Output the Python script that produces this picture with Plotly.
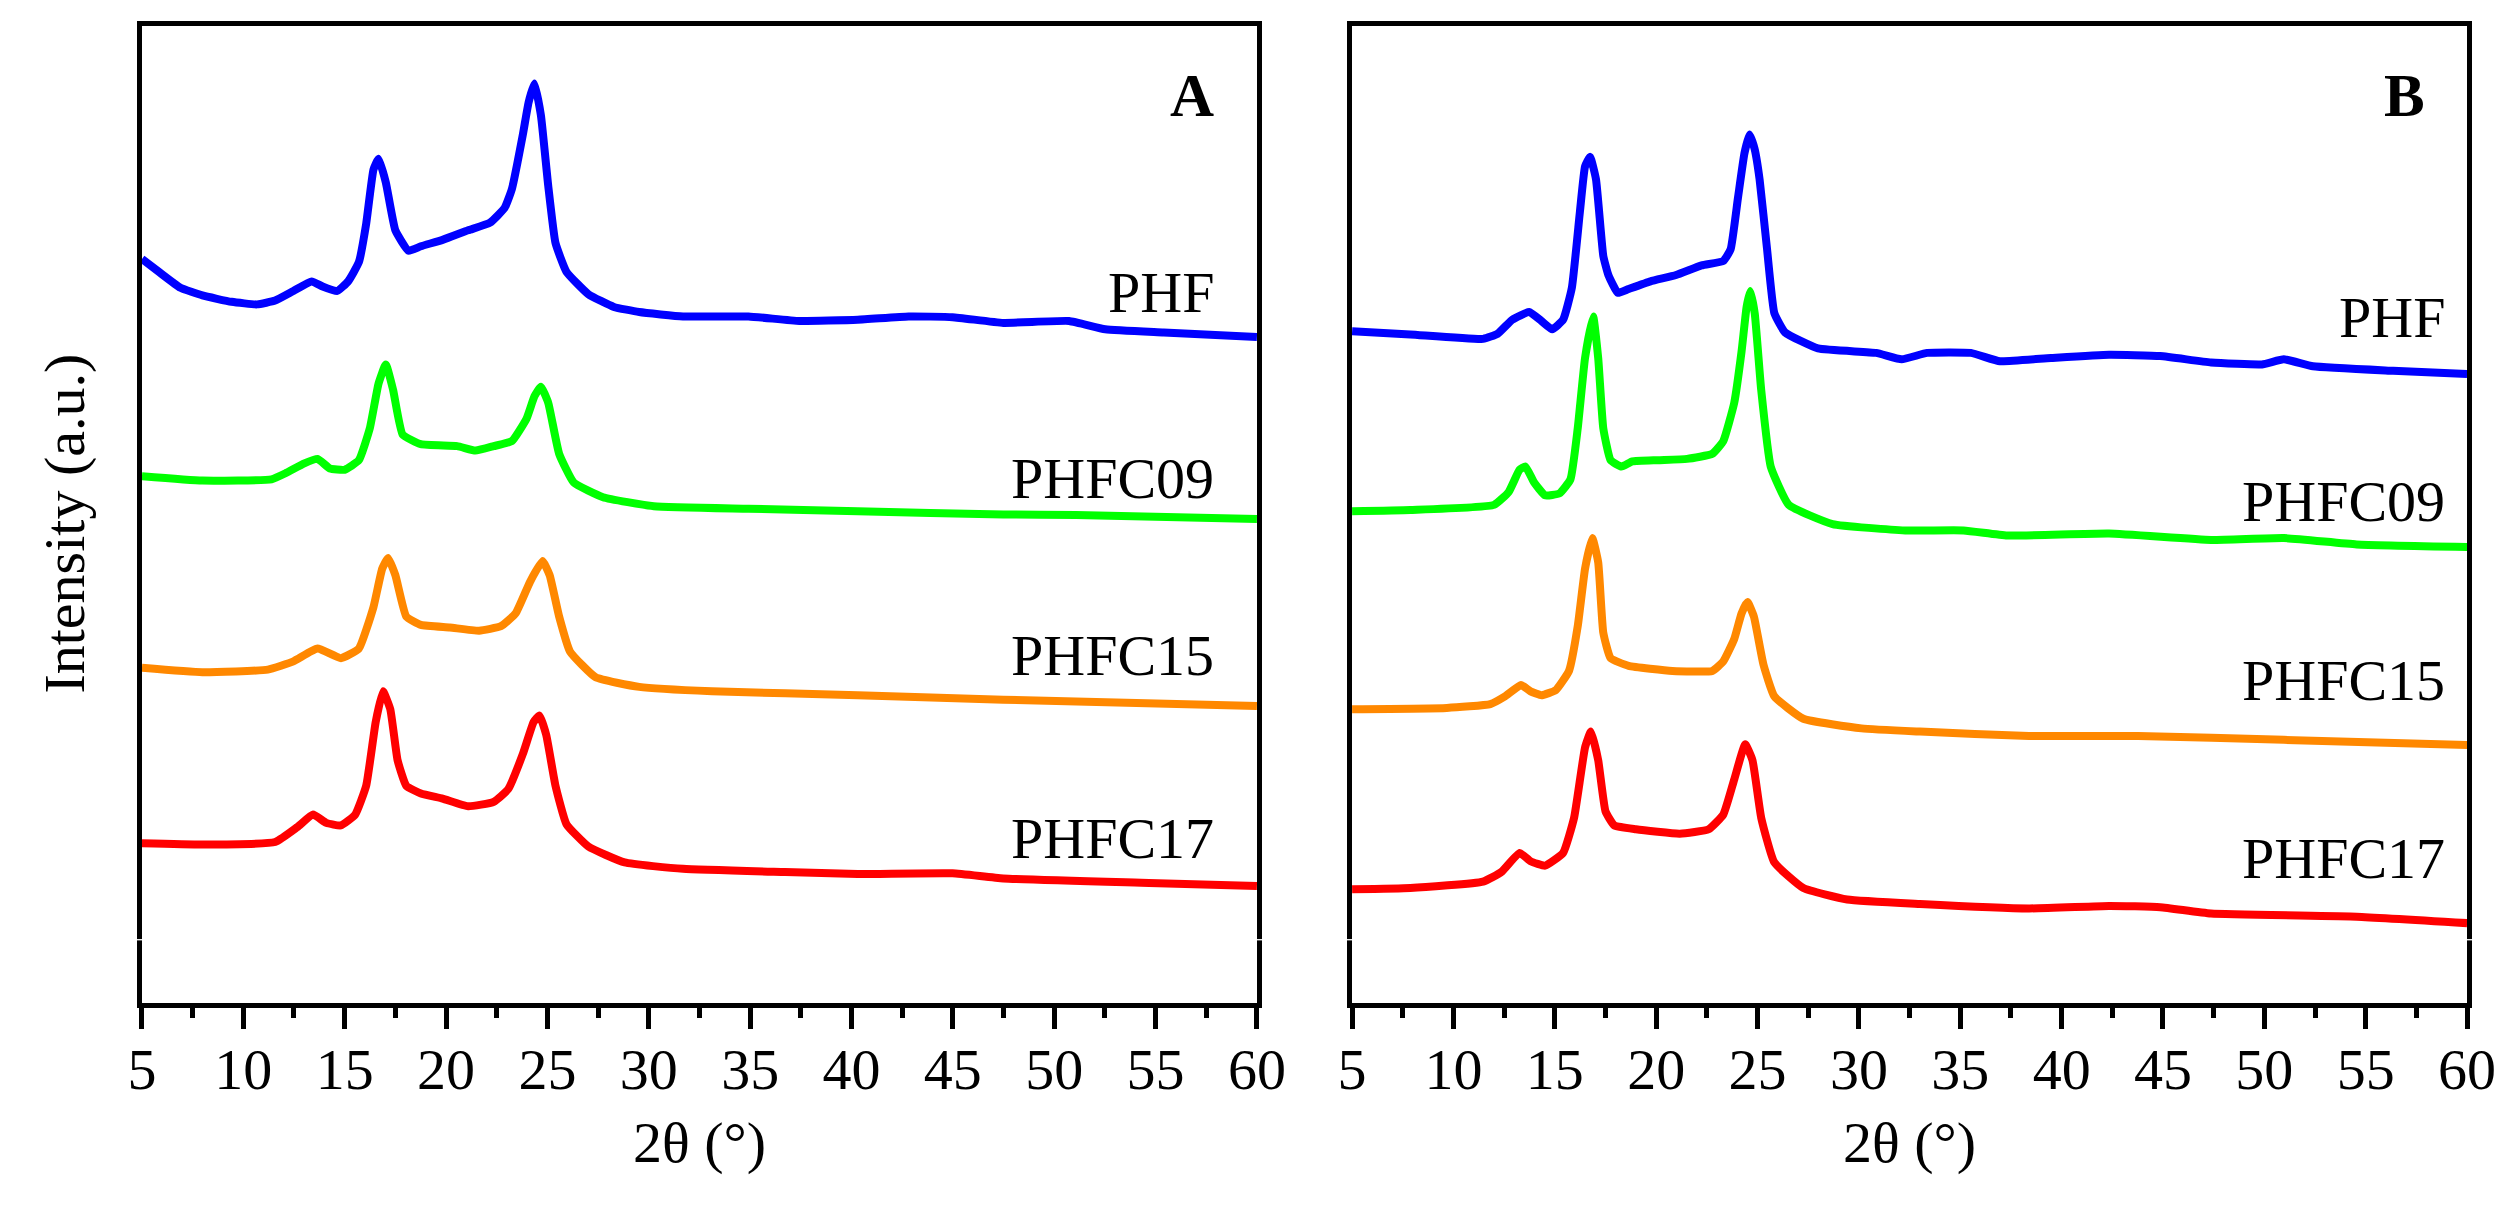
import plotly.graph_objects as go

# ---- panel A (2theta in degrees, intensity in a.u.) ----
A_PHF_X = [5.0, 5.83, 6.9, 7.98, 9.42, 10.68, 11.57, 12.47, 13.37, 13.91, 14.63, 15.17, 15.7, 16.06,
           16.42, 16.67, 17.03, 17.5, 18.15, 18.76, 19.83, 21.09, 22.17, 22.89, 23.25, 23.79, 24.07,
           24.36, 24.68, 25.04, 25.4, 25.94, 27.02, 28.28, 29.53, 31.69, 34.92, 37.43, 40.31, 42.82,
           44.98, 47.49, 50.73, 52.52, 55.4, 60.0]
A_PHF_Y = [1165, 1145, 1120, 1108, 1098, 1094, 1100, 1115, 1130, 1122, 1115, 1130, 1160, 1220,
           1305, 1322, 1285, 1210, 1178, 1185, 1195, 1210, 1222, 1245, 1275, 1360, 1410,
           1440, 1390, 1280, 1190, 1145, 1110, 1090, 1082, 1075, 1075, 1068, 1070, 1075,
           1074, 1065, 1068, 1055, 1050, 1043]

A_C09_X = [5.0, 7.98, 11.39, 12.11, 13.01, 13.66, 14.27, 14.99, 15.7, 16.24, 16.67, 17.03, 17.39,
           17.86, 18.76, 20.55, 21.45, 22.35, 23.25, 23.97, 24.36, 24.68, 25.04, 25.58, 26.3, 27.74,
           30.25, 34.92, 40.31, 47.49, 51.08, 60.0]
A_C09_Y = [825, 818, 820, 830, 845, 852, 837, 835, 850, 900, 970, 1000, 960,
           890, 875, 872, 865, 872, 880, 915, 950, 965, 940, 860, 815, 792,
           778, 774, 770, 765, 764, 758]

A_C15_X = [5.0, 7.98, 11.21, 12.47, 13.66, 14.81, 15.7, 16.42, 16.85, 17.14, 17.5, 18.04, 18.76,
           20.19, 21.63, 22.71, 23.43, 24.15, 24.76, 25.11, 25.58, 26.12, 27.38, 29.53, 33.12,
           40.31, 47.49, 60.0]
A_C15_Y = [525, 518, 522, 535, 555, 540, 555, 620, 680, 697, 670, 605, 592,
           588, 583, 590, 610, 660, 692, 670, 605, 550, 510, 495, 488,
           482, 475, 465]

A_C17_X = [5.0, 7.98, 11.57, 12.65, 13.44, 14.09, 14.81, 15.52, 16.06, 16.53, 16.89, 17.25, 17.61,
           18.04, 18.76, 19.83, 21.09, 22.35, 23.07, 23.79, 24.32, 24.61, 24.94, 25.4, 25.94, 27.02,
           28.81, 31.69, 36.72, 40.31, 44.98, 47.49, 54.68, 60.0]
A_C17_Y = [250, 248, 252, 275, 295, 282, 278, 295, 340, 440, 488, 460, 380,
           340, 328, 320, 308, 315, 335, 390, 440, 450, 420, 340, 280, 245,
           220, 210, 205, 202, 203, 195, 188, 183]

# ---- panel B ----
B_PHF_X = [5.0, 7.87, 11.46, 12.18, 12.9, 13.73, 14.34, 14.87, 15.41, 15.84, 16.24, 16.49, 16.74,
           17.03, 17.39, 17.64, 18.11, 18.64, 19.72, 20.98, 22.24, 23.31, 23.67, 24.03, 24.35, 24.6,
           24.85, 25.1, 25.47, 25.83, 26.36, 27.98, 30.85, 32.11, 33.37, 35.52, 36.96, 39.47, 42.34,
           44.86, 47.37, 49.88, 50.96, 52.4, 56.35, 60.0]
B_PHF_Y = [1052, 1047, 1040, 1048, 1070, 1082, 1068, 1055, 1070, 1120, 1240, 1310, 1325,
           1290, 1170, 1140, 1112, 1118, 1130, 1140, 1155, 1162, 1180, 1260, 1330, 1360,
           1338, 1290, 1180, 1080, 1050, 1025, 1018, 1008, 1018, 1018, 1005, 1010, 1015,
           1013, 1003, 1000, 1008, 997, 990, 985]

B_C09_X = [5.0, 7.87, 12.0, 12.72, 13.26, 13.55, 13.98, 14.52, 15.23, 15.77, 16.13, 16.49, 16.89,
           17.14, 17.39, 17.75, 18.29, 18.82, 20.08, 21.52, 22.77, 23.31, 23.85, 24.21, 24.46, 24.64,
           24.86, 25.18, 25.65, 26.54, 28.7, 32.29, 35.16, 37.32, 42.34, 47.37, 50.96, 54.55, 60.0]
B_C09_Y = [770, 772, 780, 800, 835, 840, 815, 795, 798, 820, 900, 1010, 1075,
           1010, 900, 850, 840, 848, 850, 852, 860, 880, 940, 1020, 1090, 1115,
           1080, 960, 840, 780, 750, 740, 740, 732, 735, 725, 728, 718, 714]

B_C15_X = [5.0, 9.67, 11.82, 12.54, 13.33, 13.8, 14.34, 15.05, 15.7, 16.13, 16.49, 16.85, 17.14,
           17.39, 17.75, 18.64, 20.8, 22.77, 23.31, 23.85, 24.21, 24.5, 24.82, 25.29, 25.83, 27.26,
           30.13, 33.01, 38.39, 43.78, 50.96, 60.0]
B_C15_Y = [460, 462, 468, 480, 498, 488, 482, 490, 520, 590, 680, 728, 690,
           580, 540, 528, 520, 520, 535, 570, 610, 628, 605, 530, 480, 445,
           430, 425, 418, 418, 412, 404]

B_C17_X = [5.0, 7.87, 11.46, 12.36, 13.26, 13.8, 14.52, 15.41, 15.95, 16.49, 16.78, 17.14, 17.5,
           17.93, 19.0, 21.16, 22.59, 23.31, 23.85, 24.39, 24.75, 25.18, 25.83, 27.26, 29.42, 33.01,
           38.39, 42.34, 44.86, 47.37, 54.55, 60.0]
B_C17_Y = [178, 180, 190, 205, 235, 222, 215, 235, 290, 400, 425, 380, 300,
           278, 272, 265, 272, 295, 350, 405, 380, 290, 220, 180, 162, 155,
           148, 152, 150, 140, 135, 125]

SAMPLES = ["PHF", "PHFC09", "PHFC15", "PHFC17"]
COLORS = ["#0000FF", "#00FF00", "#FF8800", "#FF0000"]

# label heights (a.u.) for each panel, and where their right edge sits (degrees)
A_LABEL_Y = [1113, 821, 544, 257]
B_LABEL_Y = [1074, 786, 505, 226]
A_LABEL_X = 58.0
B_LABEL_X = 59.0
TAG_X = 58.0
TAG_Y = 1421

FONT = "Liberation Serif, Times New Roman, serif"
FS = 58

panels = [
    ("x", "y", [(A_PHF_X, A_PHF_Y), (A_C09_X, A_C09_Y), (A_C15_X, A_C15_Y), (A_C17_X, A_C17_Y)],
     A_LABEL_Y, A_LABEL_X, "A"),
    ("x2", "y2", [(B_PHF_X, B_PHF_Y), (B_C09_X, B_C09_Y), (B_C15_X, B_C15_Y), (B_C17_X, B_C17_Y)],
     B_LABEL_Y, B_LABEL_X, "B"),
]

fig = go.Figure()
annotations = []
shapes = []
for xa, ya, series, label_y, label_x, tag in panels:
    for (xs, ys), name, col, ly in zip(series, SAMPLES, COLORS, label_y):
        fig.add_trace(go.Scatter(
            x=xs, y=ys, mode="lines", name=name, xaxis=xa, yaxis=ya,
            line=dict(color=col, width=8, shape="spline", smoothing=0.4),
            showlegend=False,
        ))
        annotations.append(dict(x=label_x, y=ly, xref=xa, yref=ya, text=name, showarrow=False,
                                xanchor="right", yanchor="middle",
                                font=dict(family=FONT, size=FS, color="black")))
    annotations.append(dict(x=TAG_X, y=TAG_Y, xref=xa, yref=ya, text="<b>%s</b>" % tag,
                            showarrow=False, xanchor="right", yanchor="middle",
                            font=dict(family=FONT, size=61, color="black")))
    # tiny break in the side frame lines, as in the original figure
    for x0, x1 in [(-0.01, 0.01), (0.99, 1.01)]:
        shapes.append(dict(type="rect", xref=xa + " domain", yref=ya, x0=x0, x1=x1, y0=98, y1=100,
                           fillcolor="white", line=dict(width=0), layer="above"))

# axis titles
annotations.append(dict(x=0.2746, y=0.072, xref="paper", yref="paper", text="2θ (°)", showarrow=False,
                        xanchor="center", yanchor="middle", font=dict(family=FONT, size=FS, color="black")))
annotations.append(dict(x=0.7552, y=0.072, xref="paper", yref="paper", text="2θ (°)", showarrow=False,
                        xanchor="center", yanchor="middle", font=dict(family=FONT, size=FS, color="black")))
annotations.append(dict(x=0.0226, y=0.578, xref="paper", yref="paper", text="Intensity (a.u.)",
                        showarrow=False, textangle=-90, xanchor="center", yanchor="middle",
                        font=dict(family=FONT, size=58, color="black")))

xcommon = dict(range=[5, 60], tick0=5, dtick=5, ticks="outside", ticklen=21, tickwidth=4.5,
               tickcolor="black", showline=True, linecolor="black", linewidth=5, mirror=True,
               showgrid=False, zeroline=False, automargin=False, ticklabelstandoff=-10,
               tickfont=dict(family=FONT, size=FS, color="black"),
               minor=dict(dtick=2.5, tick0=5, ticks="outside", ticklen=10, tickwidth=4.5,
                          tickcolor="black", showgrid=False))
ycommon = dict(range=[0, 1530], showline=True, linecolor="black", linewidth=5, mirror=True,
               showgrid=False, zeroline=False, showticklabels=False, ticks="", automargin=False)

fig.update_layout(
    width=2518, height=1222,
    margin=dict(l=0, r=0, t=0, b=0),
    paper_bgcolor="white", plot_bgcolor="white",
    xaxis=dict(domain=[0.0532, 0.4960], anchor="y", **xcommon),
    xaxis2=dict(domain=[0.5338, 0.9766], anchor="y2", **xcommon),
    yaxis=dict(domain=[0.1858, 0.9853], anchor="x", **ycommon),
    yaxis2=dict(domain=[0.1858, 0.9853], anchor="x2", **ycommon),
    annotations=annotations,
    shapes=shapes,
)

fig.write_html("out.html")
